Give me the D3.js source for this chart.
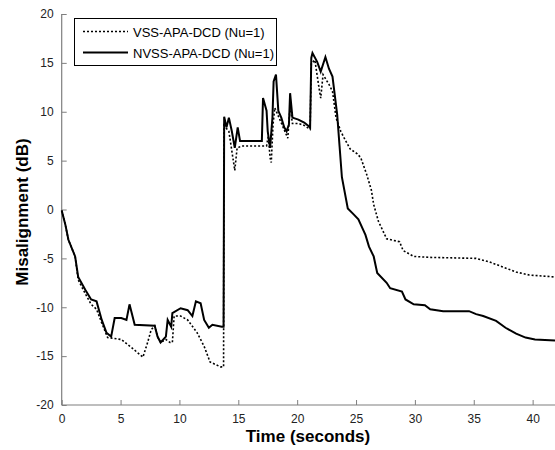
<!doctype html>
<html>
<head>
<meta charset="utf-8">
<style>
  body { margin: 0; background: #fff; }
  text { font-family: Arial, "Liberation Sans", sans-serif; }
</style>
</head>
<body>
    <div class="container"></div>

	<script src="https://d3js.org/d3.v7.min.js"></script>

    <script>
        // series (time in seconds, misalignment in dB)
        const vssTime = [0,0.3,0.57,1.14,1.4,2.0,2.5,2.96,3.4,3.9,5.06,5.9,6.9,7.3,7.6,7.9,8.14,8.4,8.85,9.2,9.4,9.55,10.1,10.7,11.5,12.1,12.6,13.5,13.75,
            13.78,14.2,14.7,14.9,15.3,17.4,17.55,17.7,17.8,17.95,18.1,18.6,19.2,19.4,19.6,20.1,20.6,21.1,21.2,21.5,21.9,22.0,22.2,22.7,23.0,23.3,23.7,24.0,24.5,25.1,25.4,25.9,26.3,26.5,26.9,27.6,28.7,29.0,29.9,31.3,35.2,36.3,37.4,38.6,39.7,41.9]
        const vssValue = [-0.1,-1.5,-3.1,-4.8,-7.2,-8.6,-9.7,-10.2,-11.6,-13.1,-13.3,-14.1,-15.1,-13.6,-12.3,-11.9,-13.0,-13.6,-13.3,-13.6,-13.6,-10.9,-10.9,-11.3,-12.6,-14.0,-15.6,-16.1,-16.1,
            8.6,8.0,4.0,6.3,6.5,6.5,7.5,5.3,4.8,8.7,10.4,9.0,7.3,10.5,8.8,8.8,8.6,8.2,14.9,15.3,12.1,11.4,13.8,12.8,12.1,9.4,8.0,7.3,6.2,5.7,5.3,3.6,2.0,0.5,-1.2,-3.0,-3.3,-4.2,-4.8,-4.9,-5.0,-5.35,-5.85,-6.4,-6.7,-6.9]

        const nvssTime = [0,0.3,0.57,1.14,1.4,2.0,2.5,2.96,3.4,3.8,4.2,4.5,5.06,5.5,5.76,6.2,7.9,8.14,8.4,8.85,9.0,9.3,9.4,10.1,10.7,11.1,11.4,11.8,12.1,12.5,12.8,13.6,13.75,
            13.8,14.0,14.2,14.45,14.7,14.95,15.15,17.0,17.1,17.4,17.5,17.7,17.9,18.0,18.2,18.4,18.65,18.9,19.1,19.3,19.4,19.6,20.1,20.6,21.1,21.2,21.3,21.7,22.0,22.4,22.7,23.0,23.4,23.6,23.8,24.3,24.8,25.2,25.8,26.1,26.5,26.8,27.6,27.9,28.9,29.2,29.9,30.85,31.3,32.4,34.6,35.2,35.8,36.9,37.7,38.6,39.4,40.2,41.9]
        const nvssValue = [-0.1,-1.5,-3.1,-4.8,-6.9,-8.2,-9.2,-9.4,-11.3,-12.6,-13.0,-11.1,-11.1,-11.3,-9.7,-11.8,-11.9,-13.0,-13.6,-13.0,-11.3,-12.0,-10.6,-10.1,-10.3,-10.9,-9.4,-9.6,-11.3,-12.1,-11.8,-12.0,-12.0,
            9.5,8.4,9.4,8.0,6.3,8.4,7.0,7.0,11.4,10.1,8.0,6.3,9.4,13.1,13.8,10.1,9.4,8.4,8.0,8.7,11.9,9.4,9.2,8.9,8.4,15.5,16.0,15.1,14.1,15.6,14.4,13.6,9.7,6.5,3.3,0.1,-0.5,-1.0,-2.6,-3.8,-4.8,-6.5,-7.5,-8.05,-8.4,-9.2,-9.7,-9.8,-10.2,-10.4,-10.4,-10.7,-10.9,-11.4,-12.1,-12.7,-13.1,-13.3,-13.4]

        const xTicks = [0,5,10,15,20,25,30,35,40]
        const yTicks = [-20,-15,-10,-5,0,5,10,15,20]
        const seriesNames = ['VSS-APA-DCD (Nu=1)', 'NVSS-APA-DCD (Nu=1)']

        const svg = d3.select('.container').append('svg').attr('width', 555).attr('height', 450)

        const x = d3.scaleLinear().domain([0, 41.9]).range([61.7, 555])
        const y = d3.scaleLinear().domain([-20, 20]).range([405, 14])

        const xAxis = svg.append('g').attr('transform', 'translate(0,405)')
            .call(d3.axisBottom(x).tickValues(xTicks).tickFormat(d => String(d)).tickSize(-5).tickPadding(9).tickSizeOuter(0))
        const yAxis = svg.append('g').attr('transform', 'translate(61.7,0)')
            .call(d3.axisLeft(y).tickValues(yTicks).tickFormat(d => String(d)).tickSize(-5).tickPadding(8).tickSizeOuter(0))

        for (const g of [xAxis, yAxis]) {
            g.select('.domain').attr('stroke', '#7f7f7f').attr('stroke-width', 1.2)
            g.selectAll('.tick line').attr('stroke', '#7f7f7f')
            g.selectAll('.tick text').attr('fill', '#222').style('font-size', '12px')
                .style('font-family', 'Arial, "Liberation Sans", sans-serif')
        }
        xAxis.select('.domain').attr('d', 'M61.7,0H555')
        yAxis.select('.domain').attr('d', 'M0,405V14')

        const line = d3.line().x(d => x(d[0])).y(d => y(d[1]))
        const vss = vssTime.map((t, i) => [t, vssValue[i]])
        const nvss = nvssTime.map((t, i) => [t, nvssValue[i]])

        svg.append('path').datum(vss).attr('d', line)
            .attr('fill', 'none').attr('stroke', '#000').attr('stroke-width', 1.6)
            .attr('stroke-dasharray', '2,2')
        svg.append('path').datum(nvss).attr('d', line)
            .attr('fill', 'none').attr('stroke', '#000').attr('stroke-width', 2)

        // legend
        const lg = svg.append('g')
        lg.append('rect').attr('x', 74.5).attr('y', 18.5).attr('width', 202).attr('height', 47)
            .attr('fill', '#fff').attr('stroke', '#000')
        seriesNames.forEach((name, i) => {
            const yy = 31.5 + i * 21
            lg.append('line').attr('x1', 83).attr('x2', 128).attr('y1', yy).attr('y2', yy)
                .attr('stroke', '#000').attr('stroke-width', i ? 2 : 1.6)
                .attr('stroke-dasharray', i ? null : '2,2')
            lg.append('text').attr('x', 133).attr('y', yy + 5).text(name)
                .style('font-size', '13px').attr('fill', '#000')
        })

        svg.append('text').attr('x', 308).attr('y', 442).attr('text-anchor', 'middle')
            .style('font-size', '17px').style('font-weight', 'bold').text('Time (seconds)')
        svg.append('text').attr('transform', 'translate(28,212) rotate(-90)').attr('text-anchor', 'middle')
            .style('font-size', '17px').style('font-weight', 'bold').text('Misalignment (dB)')
    </script>
</body>
</html>
